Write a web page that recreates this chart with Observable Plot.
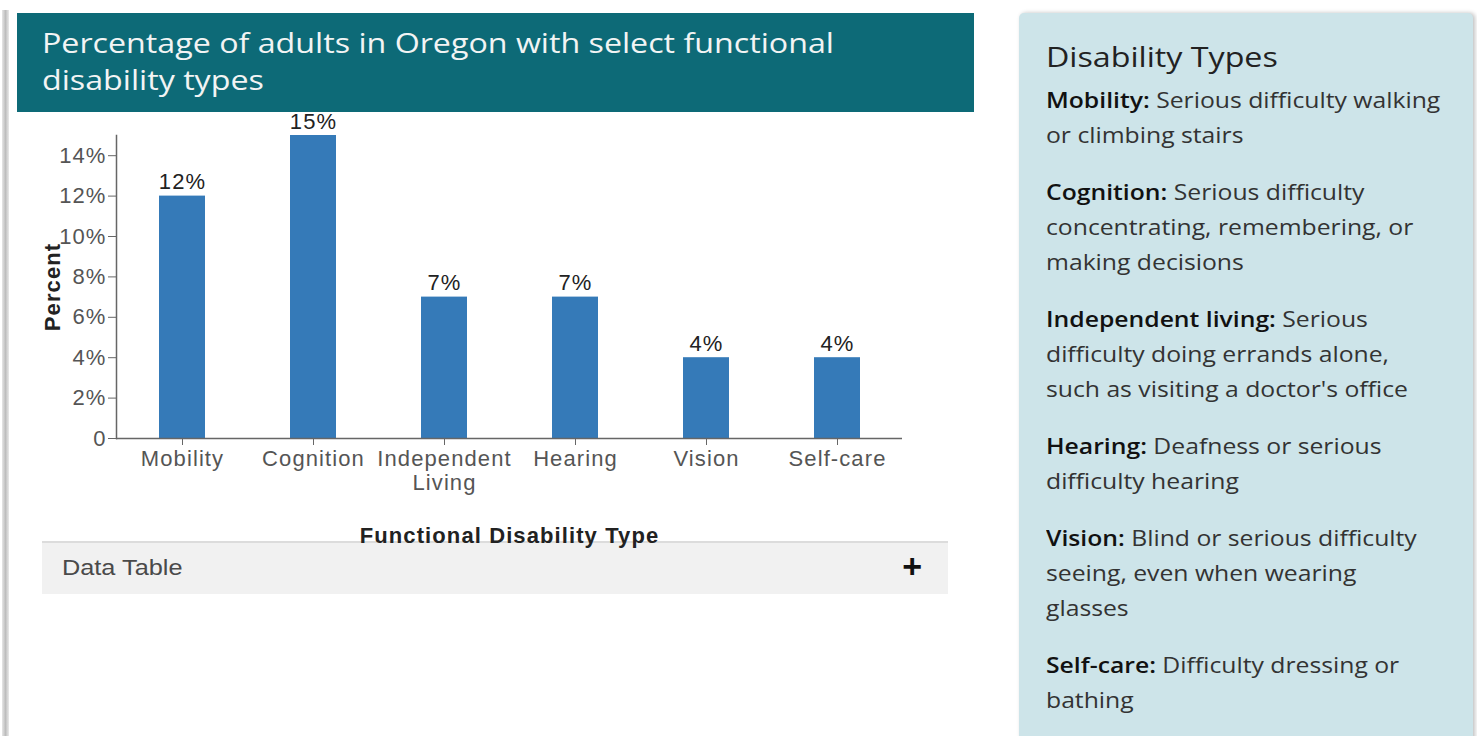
<!DOCTYPE html>
<html>
<head>
<meta charset="utf-8">
<script src="https://cdn.jsdelivr.net/npm/d3@7"></script>
<script src="https://cdn.jsdelivr.net/npm/@observablehq/plot@0.6"></script>
<style>
  html, body { margin: 0; padding: 0; background: #fff; width: 1477px; height: 736px; overflow: hidden; position: relative; }
  .shadow-left { position: absolute; left: 2px; top: 10px; width: 7px; height: 740px; background: linear-gradient(to right, #e6e6e6, #bdbdbd, #e9e9e9); }
  .titlebar { position: absolute; left: 17px; top: 13px; width: 957px; height: 99px; background: #0d6a77; box-sizing: border-box; padding: 11px 0 0 25px; color: #f2f4f4; font-family: "Open Sans", sans-serif; font-size: 28px; line-height: 37px; font-weight: 500; }
  .titlebar span { display: inline-block; transform: scaleX(1.15); transform-origin: left center; white-space: nowrap; }
  #chart { position: absolute; left: 20px; top: 112px; z-index: 2; }
  #chart svg text { letter-spacing: 1.1px; }
  .datatable { position: absolute; left: 42px; top: 541px; width: 906px; height: 53px; background: #f1f1f1; border-top: 2px solid #dcdcdc; box-sizing: border-box; font-family: "Liberation Sans", Arial, sans-serif; font-size: 22px; color: #4a4a4a; z-index: 1; }
  .datatable .lbl { position: absolute; left: 20px; top: 12px; transform: scaleX(1.15); transform-origin: left center; }
  .datatable .plus { position: absolute; right: 26px; top: 4px; font-size: 34px; font-weight: bold; color: #111; }
  .panel { position: absolute; left: 1019px; top: 13px; width: 454px; height: 740px; background: #cde4e9; border-radius: 5px; box-shadow: 2px 0 4px rgba(0,0,0,0.25); box-sizing: border-box; padding: 23px 0 0 27px; font-family: "Open Sans", sans-serif; color: #333; }
  .panel .inner { transform: scaleX(1.15); transform-origin: left top; white-space: nowrap; }
  .panel h2 { margin: 0 0 6px 0; font-size: 28px; font-weight: 400; color: #222; line-height: 40px; }
  .panel p { margin: 0 0 22px 0; font-size: 21.5px; line-height: 35px; }
  .panel b { font-weight: 600; color: #111; }
  #chart svg [aria-label="x-axis label"] text, #chart svg [aria-label="y-axis label"] text { font-weight: bold; fill: #222; }
</style>
</head>
<body>
<div class="shadow-left"></div>
<div class="titlebar"><span>Percentage of adults in Oregon with select functional</span><br><span>disability types</span></div>
<div class="datatable"><span class="lbl">Data Table</span><span class="plus">+</span></div>
<div id="chart"></div>
<div class="panel"><div class="inner">
  <h2>Disability Types</h2>
  <p><b>Mobility:</b> Serious difficulty walking<br>or climbing stairs</p>
  <p><b>Cognition:</b> Serious difficulty<br>concentrating, remembering, or<br>making decisions</p>
  <p><b>Independent living:</b> Serious<br>difficulty doing errands alone,<br>such as visiting a doctor's office</p>
  <p><b>Hearing:</b> Deafness or serious<br>difficulty hearing</p>
  <p><b>Vision:</b> Blind or serious difficulty<br>seeing, even when wearing<br>glasses</p>
  <p><b>Self-care:</b> Difficulty dressing or<br>bathing</p>
</div></div>
<script>
const categories = ["Mobility", "Cognition", "Independent Living", "Hearing", "Vision", "Self-care"];
const percents = [12, 15, 7, 7, 4, 4];
const yTicks = [0, 2, 4, 6, 8, 10, 12, 14];
const xTitle = "Functional Disability Type";
const yTitle = "Percent";

const data = categories.map((c, i) => ({category: c, value: percents[i]}));

const chart = Plot.plot({
  width: 920,
  height: 436,
  marginLeft: 96,
  marginRight: 38,
  marginTop: 23,
  marginBottom: 110,
  style: {background: "transparent", overflow: "visible", fontFamily: "'Liberation Sans', Arial, sans-serif", fontSize: "22px"},
  x: {domain: categories, paddingInner: 0.65, paddingOuter: 0.325},
  y: {domain: [0, 15]},
  marks: [
    Plot.barY(data, {x: "category", y: "value", fill: "#357ab8"}),
    Plot.frame({anchor: "left", stroke: "#666", strokeWidth: 1.5}),
    Plot.ruleY([0], {stroke: "#666", strokeWidth: 1.5}),
    Plot.text(data, {x: "category", y: "value", text: d => d.value + "%", dy: -14, fill: "#222", fontSize: 22}),
    Plot.axisY({
      ticks: yTicks, tickSize: 8, tickPadding: 2, stroke: "#666", color: "#555",
      tickFormat: d => d === 0 ? "0" : d + "%",
      label: yTitle, labelAnchor: "center", labelArrow: "none", labelOffset: 72, fontSize: 22
    }),
    Plot.axisX({
      tickSize: 7, tickPadding: 4, stroke: "#666", color: "#555", lineHeight: 1.08,
      tickFormat: d => d === "Independent Living" ? "Independent\nLiving" : d,
      label: xTitle, labelAnchor: "center", labelArrow: "none", labelOffset: 104, fontSize: 22
    })
  ]
});
document.getElementById("chart").appendChild(chart);
</script>
</body>
</html>
